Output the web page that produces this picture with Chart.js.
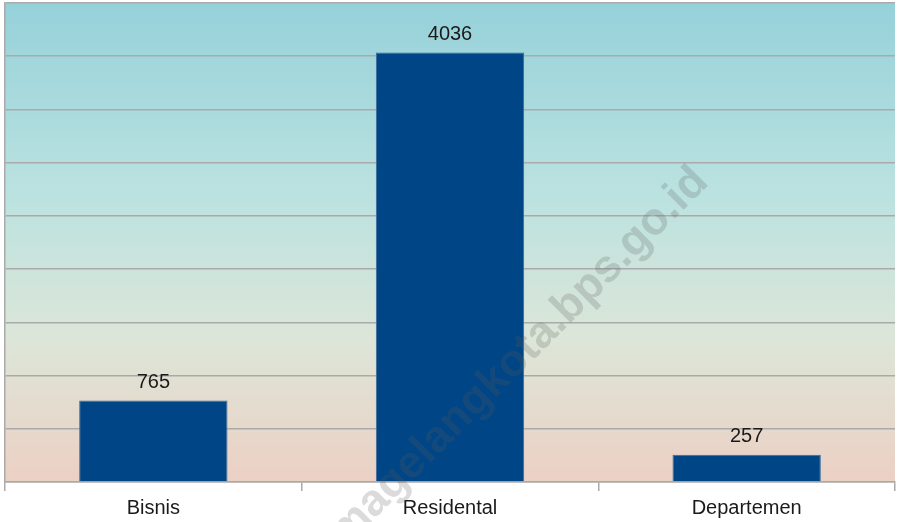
<!DOCTYPE html>
<html>
<head>
<meta charset="utf-8">
<script src="https://cdn.jsdelivr.net/npm/chart.js@4"></script>
<style>
  html, body { margin: 0; padding: 0; background: #fff; }
  #wrap { width: 897px; height: 522px; }
</style>
</head>
<body>
<div id="wrap"><canvas id="chart" width="897" height="522"></canvas></div>
<script>
// Daten
const categories = ["Bisnis", "Residental", "Departemen"];
const values = [765, 4036, 257];
const yMin = 0, yMax = 4500, yStep = 500;
const watermark = "magelangkota.bps.go.id";

// Hintergrund-Verlauf im Plotbereich
const bgPlugin = {
    id: 'bgGradient',
    beforeDraw(chart) {
        const { ctx, chartArea: a } = chart;
        const g = ctx.createLinearGradient(0, a.top, 0, a.bottom);
        g.addColorStop(0, '#96d1da');
        g.addColorStop(0.4, '#bbe2e0');
        g.addColorStop(0.7, '#dce6d8');
        g.addColorStop(1, '#ecd0c4');
        ctx.save();
        ctx.fillStyle = g;
        ctx.fillRect(a.left, a.top, a.right - a.left, a.bottom - a.top);
        ctx.restore();
    }
};

// Werte über den Balken
const labelPlugin = {
    id: 'valueLabels',
    afterDatasetsDraw(chart) {
        const { ctx } = chart;
        const meta = chart.getDatasetMeta(0);
        ctx.save();
        ctx.font = '20px "Liberation Sans", Arial, sans-serif';
        ctx.fillStyle = '#1a1a1a';
        ctx.textAlign = 'center';
        ctx.textBaseline = 'middle';
        meta.data.forEach((bar, i) => {
            ctx.fillText(String(values[i]), bar.x, bar.y - 18);
        });
        ctx.restore();
    }
};

// Wasserzeichen
const watermarkPlugin = {
    id: 'watermark',
    afterDraw(chart) {
        const { ctx } = chart;
        ctx.save();
        ctx.translate(519, 357);
        ctx.rotate(-Math.PI / 4);
        ctx.font = 'bold 45px "Liberation Sans", Arial, sans-serif';
        ctx.fillStyle = 'rgba(90,90,90,0.22)';
        ctx.textAlign = 'center';
        ctx.textBaseline = 'middle';
        ctx.fillText(watermark, 0, 0);
        ctx.restore();
    }
};

new Chart(document.getElementById('chart').getContext('2d'), {
    type: 'bar',
    data: {
        labels: categories,
        datasets: [{
            data: values,
            backgroundColor: '#004586',
            borderColor: '#3a6a98',
            borderWidth: 1,
            barPercentage: 0.5,
            categoryPercentage: 1
        }]
    },
    options: {
        responsive: false,
        animation: false,
        layout: { padding: { top: 3, right: 2, left: 0, bottom: 0 } },
        plugins: { legend: { display: false }, tooltip: { enabled: false } },
        scales: {
            x: {
                grid: {
                    offset: true,
                    drawOnChartArea: false,
                    drawTicks: true,
                    tickLength: 9,
                    color: '#aaaaaa',
                    lineWidth: 1.5
                },
                border: { display: true, color: '#aaaaaa', width: 1.5 },
                ticks: {
                    color: '#1a1a1a',
                    padding: 5,
                    font: { family: '"Liberation Sans", Arial, sans-serif', size: 20 }
                },
                afterFit(scale) { scale.height = 40; }
            },
            y: {
                min: yMin,
                max: yMax,
                ticks: { stepSize: yStep, display: false },
                grid: { color: '#aaaaaa', lineWidth: 1.5, drawTicks: false },
                border: { display: true, color: '#aaaaaa', width: 1.5 },
                afterFit(scale) { scale.width = 5; }
            }
        }
    },
    plugins: [bgPlugin, labelPlugin, watermarkPlugin]
});
</script>
</body>
</html>
